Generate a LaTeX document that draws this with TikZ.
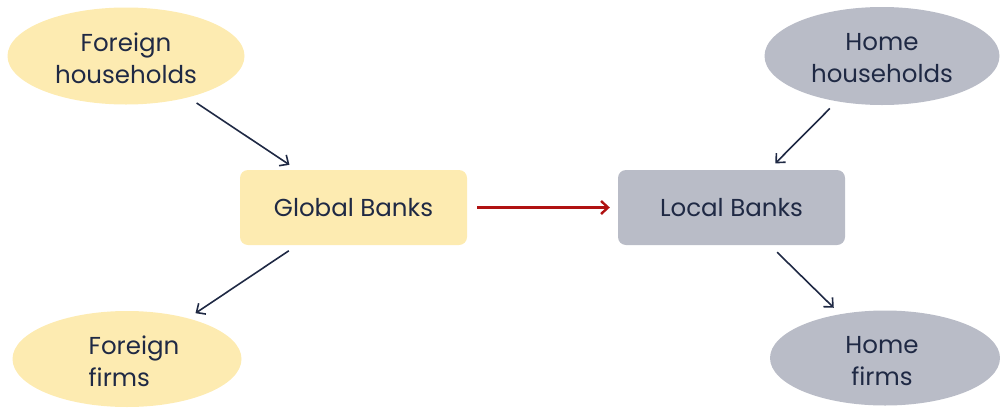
\documentclass[tikz,border=0pt]{standalone}
\usepackage{fontspec}
\setmainfont{Poppins}
\usetikzlibrary{shapes.geometric,arrows.meta}
\definecolor{foreignfill}{HTML}{FDEBB1}
\definecolor{homefill}{HTML}{B9BCC7}
\definecolor{inkblue}{HTML}{1F2944}
\definecolor{flowred}{HTML}{B01212}
\tikzset{
  txt/.style={text=inkblue,font=\fontsize{24.5}{32}\selectfont},
  agent/.style={ellipse,draw=none,inner sep=0pt,txt,align=center},
  bank/.style={rectangle,rounded corners=8pt,draw=none,inner sep=0pt,
    minimum width=227pt,minimum height=75pt,txt},
  link/.style={draw=inkblue,line width=1.6pt,
    -{Straight Barb[length=7pt,width=13pt,line width=1.6pt]},
    shorten <=10pt,shorten >=9pt},
  flow/.style={draw=flowred,line width=2.4pt,
    -{Straight Barb[length=7pt,width=13pt,line width=2.4pt]},
    shorten <=10pt,shorten >=8pt}
}
\begin{document}
\begin{tikzpicture}[x=1pt,y=-1pt]
\useasboundingbox (0,0) rectangle (1000,407);

% households and firms
\node[agent,fill=foreignfill,minimum width=237pt,minimum height=97pt] (fh) at (126,56) {};
\node[txt,align=center] at (126,58) {Foreign\\households};
\node[agent,fill=homefill,minimum width=235pt,minimum height=98pt] (hh) at (882,56) {};
\node[txt,align=center] at (882,58) {Home\\households};
\node[agent,fill=foreignfill,minimum width=229pt,minimum height=96pt] (ff) at (127,359) {};
\node[txt,align=left] at (134,361) {Foreign\\firms};
\node[agent,fill=homefill,minimum width=230pt,minimum height=95pt] (hf) at (885,358) {};
\node[txt,align=center] at (882,361) {Home\\firms};

% banks
\node[bank,fill=foreignfill] (gb) at (353.5,207.5) {Global Banks};
\node[bank,fill=homefill] (lb) at (731.5,207.5) {Local Banks};

% funding flows
\draw[link] (fh) -- (gb);
\draw[link] (hh) -- (lb);
\draw[link] (gb) -- (ff);
\draw[link] (lb) -- (hf);
\draw[flow] (gb) -- (lb);
\end{tikzpicture}
\end{document}
